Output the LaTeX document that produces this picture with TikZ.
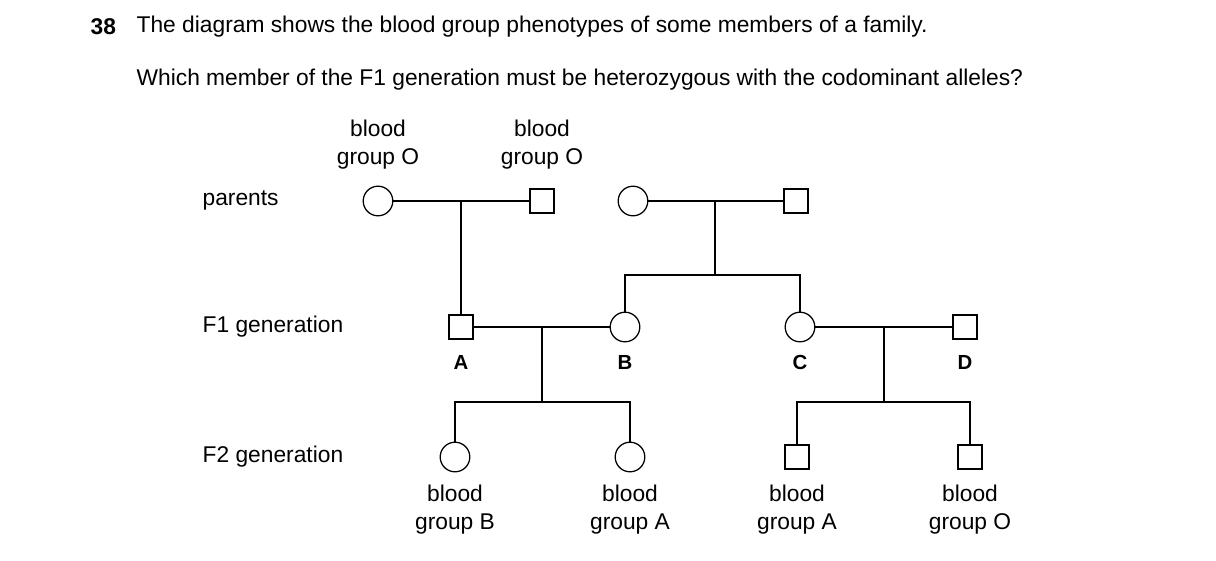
\documentclass[tikz,border=0pt]{standalone}
\usepackage{fontspec}
\setmainfont{Liberation Sans}
\begin{document}
\begin{tikzpicture}[x=0.025cm,y=-0.025cm,line width=0.9pt,
  female/.style={draw,circle,inner sep=0pt,minimum size=0.74cm},
  male/.style={draw,rectangle,inner sep=0pt,minimum size=0.6cm},
  txt/.style={font=\fontsize{16.2}{19}\selectfont,inner sep=0pt},
  lbl/.style={txt,align=center},
  let/.style={font=\fontsize{14.5}{17}\selectfont\bfseries,inner sep=0pt}]
	\useasboundingbox (0,0) rectangle (1216,560);

	\node[txt,anchor=west,font=\fontsize{16.2}{19}\selectfont\bfseries] (num) at (90,27) {38};
	\node[txt,anchor=west] (q1) at (136,27) {The diagram shows the blood group phenotypes of some members of a family.};
	\node[txt,anchor=west] (q2) at (136,80) {Which member of the F1 generation must be heterozygous with the codominant alleles?};

	\node[txt,anchor=west] (lp) at (202,200) {parents};
	\node[txt,anchor=west] (lf1) at (202,327) {F1 generation};
	\node[txt,anchor=west] (lf2) at (202,457) {F2 generation};

	% parents
	\node[female] (p1) at (378,201) {};
	\node[male] (p2) at (542,201) {};
	\node[female] (p3) at (633,201) {};
	\node[male] (p4) at (796,201) {};
	% F1
	\node[male] (a) at (461,327) {};
	\node[female] (b) at (625,327) {};
	\node[female] (c) at (800,327) {};
	\node[male] (d) at (965,327) {};
	% F2
	\node[female] (e) at (455,457) {};
	\node[female] (f) at (630,457) {};
	\node[male] (g) at (797,457) {};
	\node[male] (h) at (970,457) {};

	\node[let] at (461,362) {A};
	\node[let] at (625,362) {B};
	\node[let] at (800,362) {C};
	\node[let] at (965,362) {D};

	\node[lbl] at (378,145) {blood\\[1pt]group O};
	\node[lbl] at (542,145) {blood\\[1pt]group O};
	\node[lbl] at (455,510) {blood\\[1pt]group B};
	\node[lbl] at (630,510) {blood\\[1pt]group A};
	\node[lbl] at (797,510) {blood\\[1pt]group A};
	\node[lbl] at (970,510) {blood\\[1pt]group O};

	\coordinate (m1) at (461,201);
	\coordinate (m2) at (715,201);
	\coordinate (m3) at (542,327);
	\coordinate (m4) at (884,327);
	\coordinate (s2) at (715,275);
	\coordinate (s3) at (542,402);
	\coordinate (s4) at (884,402);

	\draw (p1) -- (p2);
	\draw (m1) -- (a);
	\draw (p3) -- (p4);
	\draw (m2) -- (s2);
	\draw (b) -- (b |- s2) -- (c |- s2) -- (c);
	\draw (a) -- (b);
	\draw (m3) -- (s3);
	\draw (e) -- (e |- s3) -- (f |- s3) -- (f);
	\draw (c) -- (d);
	\draw (m4) -- (s4);
	\draw (g) -- (g |- s4) -- (h |- s4) -- (h);
\end{tikzpicture}
\end{document}
